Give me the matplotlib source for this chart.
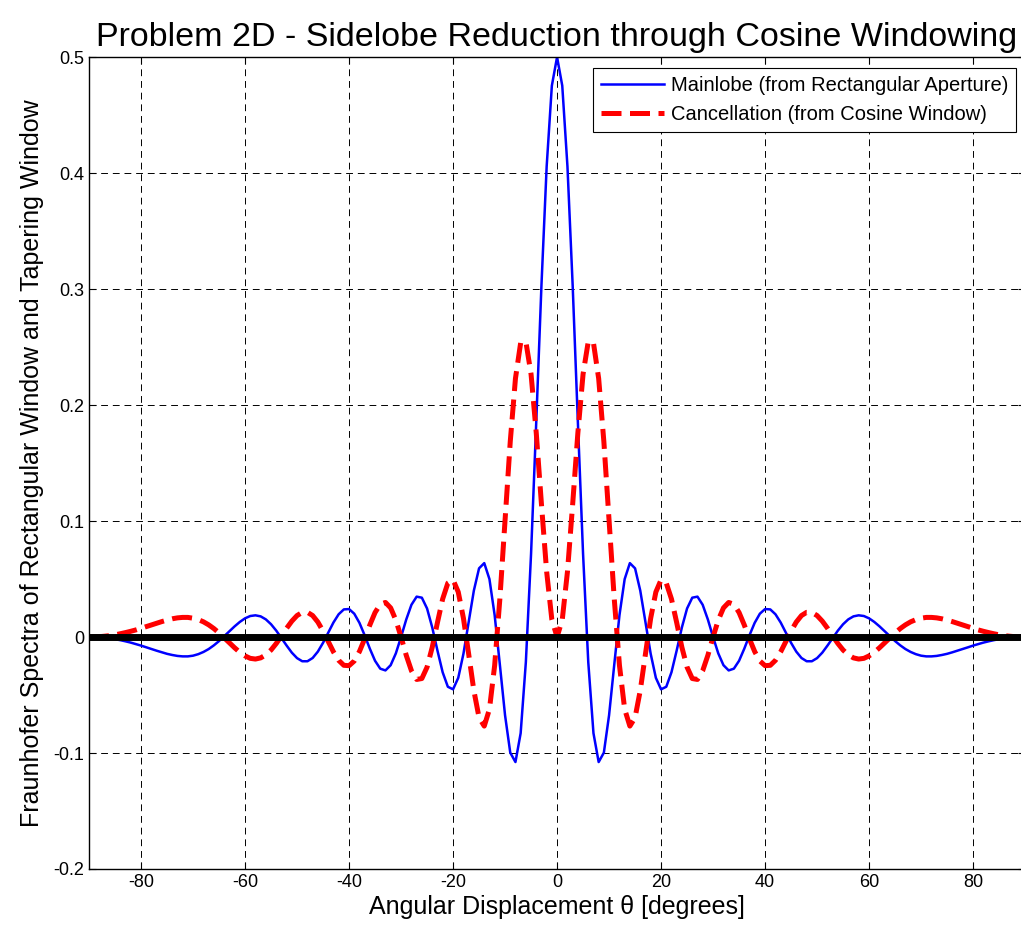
import numpy as np
import matplotlib
matplotlib.use("Agg")
import matplotlib.pyplot as plt
from matplotlib.ticker import FuncFormatter

plt.rcParams['font.family'] = ['Liberation Sans', 'DejaVu Sans']
plt.rcParams['axes.unicode_minus'] = False

# Angular displacement in degrees, one sample per degree
theta = np.arange(-90, 91)

# Fraunhofer pattern of the rectangular aperture
mainlobe = [
    0.0, -0.0001, -0.0003, -0.0007, -0.0012, -0.0019, -0.0027, -0.0037, -0.0048, -0.0061,
    -0.0074, -0.0089, -0.0103, -0.0118, -0.0132, -0.0145, -0.0155, -0.0163, -0.0167, -0.0167,
    -0.0161, -0.0148, -0.0129, -0.0104, -0.0072, -0.0035, 0.0007, 0.0050, 0.0092, 0.0130,
    0.0161, 0.0181, 0.0187, 0.0178, 0.0152, 0.0110, 0.0055, -0.0009, -0.0074, -0.0135,
    -0.0182, -0.0209, -0.0209, -0.0181, -0.0126, -0.0050, 0.0038, 0.0125, 0.0196, 0.0238,
    0.0241, 0.0201, 0.0122, 0.0015, -0.0101, -0.0205, -0.0273, -0.0288, -0.0243, -0.0141,
    0.0, 0.0151, 0.0278, 0.0348, 0.0339, 0.0246, 0.0082, -0.0117, -0.0304, -0.0429,
    -0.0451, -0.0352, -0.0144, 0.0129, 0.0400, 0.0592, 0.0637, 0.0499, 0.0188, -0.0238,
    -0.0675, -0.0997, -0.1078, -0.0829, -0.0216, 0.0717, 0.1856, 0.3033, 0.4056, 0.4753,
    0.5,
    0.4753, 0.4056, 0.3033, 0.1856, 0.0717, -0.0216, -0.0829, -0.1078, -0.0997, -0.0675,
    -0.0238, 0.0188, 0.0499, 0.0637, 0.0592, 0.0400, 0.0129, -0.0144, -0.0352, -0.0451,
    -0.0429, -0.0304, -0.0117, 0.0082, 0.0246, 0.0339, 0.0348, 0.0278, 0.0151, 0.0,
    -0.0141, -0.0243, -0.0288, -0.0273, -0.0205, -0.0101, 0.0015, 0.0122, 0.0201, 0.0241,
    0.0238, 0.0196, 0.0125, 0.0038, -0.0050, -0.0126, -0.0181, -0.0209, -0.0209, -0.0182,
    -0.0135, -0.0074, -0.0009, 0.0055, 0.0110, 0.0152, 0.0178, 0.0187, 0.0181, 0.0161,
    0.0130, 0.0092, 0.0050, 0.0007, -0.0035, -0.0072, -0.0104, -0.0129, -0.0148, -0.0161,
    -0.0167, -0.0167, -0.0163, -0.0155, -0.0145, -0.0132, -0.0118, -0.0103, -0.0089, -0.0074,
    -0.0061, -0.0048, -0.0037, -0.0027, -0.0019, -0.0012, -0.0007, -0.0003, -0.0001, 0.0,
]

# Cancellation term contributed by the cosine taper
cancellation = [
    0.0, 0.0001, 0.0003, 0.0007, 0.0012, 0.0019, 0.0028, 0.0038, 0.0049, 0.0061,
    0.0075, 0.0089, 0.0104, 0.0119, 0.0133, 0.0146, 0.0157, 0.0165, 0.0169, 0.0169,
    0.0162, 0.0150, 0.0131, 0.0105, 0.0073, 0.0035, -0.0007, -0.0050, -0.0093, -0.0132,
    -0.0163, -0.0184, -0.0190, -0.0180, -0.0154, -0.0112, -0.0056, 0.0009, 0.0076, 0.0137,
    0.0185, 0.0212, 0.0213, 0.0185, 0.0129, 0.0051, -0.0039, -0.0128, -0.0201, -0.0244,
    -0.0247, -0.0207, -0.0125, -0.0016, 0.0104, 0.0211, 0.0282, 0.0298, 0.0251, 0.0146,
    0.0, -0.0158, -0.0291, -0.0366, -0.0358, -0.0260, -0.0088, 0.0125, 0.0328, 0.0465,
    0.0493, 0.0388, 0.0161, -0.0146, -0.0461, -0.0695, -0.0768, -0.0622, -0.0245, 0.0328,
    0.1010, 0.1685, 0.2229, 0.2536, 0.2547, 0.2266, 0.1759, 0.1144, 0.0563, 0.0149,
    0.0,
    0.0149, 0.0563, 0.1144, 0.1759, 0.2266, 0.2547, 0.2536, 0.2229, 0.1685, 0.1010,
    0.0328, -0.0245, -0.0622, -0.0768, -0.0695, -0.0461, -0.0146, 0.0161, 0.0388, 0.0493,
    0.0465, 0.0328, 0.0125, -0.0088, -0.0260, -0.0358, -0.0366, -0.0291, -0.0158, 0.0,
    0.0146, 0.0251, 0.0298, 0.0282, 0.0211, 0.0104, -0.0016, -0.0125, -0.0207, -0.0247,
    -0.0244, -0.0201, -0.0128, -0.0039, 0.0051, 0.0129, 0.0185, 0.0213, 0.0212, 0.0185,
    0.0137, 0.0076, 0.0009, -0.0056, -0.0112, -0.0154, -0.0180, -0.0190, -0.0184, -0.0163,
    -0.0132, -0.0093, -0.0050, -0.0007, 0.0035, 0.0073, 0.0105, 0.0131, 0.0150, 0.0162,
    0.0169, 0.0169, 0.0165, 0.0157, 0.0146, 0.0133, 0.0119, 0.0104, 0.0089, 0.0075,
    0.0061, 0.0049, 0.0038, 0.0028, 0.0019, 0.0012, 0.0007, 0.0003, 0.0001, 0.0,
]

xticks = [-80, -60, -40, -20, 0, 20, 40, 60, 80]
yticks = [-0.2, -0.1, 0, 0.1, 0.2, 0.3, 0.4, 0.5]

fig = plt.figure(figsize=(10.21, 9.32), dpi=100)
ax = fig.add_axes([0.0872, 0.0676, 0.9168, 0.8712])

ax.plot(theta, mainlobe, color='#0000ff', lw=1.8,
        label='Mainlobe (from Rectangular Aperture)')
ax.plot(theta, cancellation, color='#ff0000', lw=3.6, linestyle=(0, (4, 1.7)),
        label='Cancellation (from Cosine Window)')
ax.axhline(0, color='black', lw=5, zorder=5)

ax.set_xlim(-90, 90)
ax.set_ylim(-0.2, 0.5)
ax.set_xticks(xticks)
ax.set_yticks(yticks)
ax.yaxis.set_major_formatter(FuncFormatter(lambda v, p: f"{v:g}"))
ax.tick_params(direction='in', top=True, right=True, length=5, labelsize=13)
ax.grid(True, color='black', lw=0.7, linestyle=(0, (7, 5)))
for sp in ax.spines.values():
    sp.set_linewidth(1.0)

ax.set_title('Problem 2D - Sidelobe Reduction through Cosine Windowing',
             fontsize=24.5, pad=8)
ax.set_xlabel('Angular Displacement θ [degrees]', fontsize=18, labelpad=3)
ax.set_ylabel('Fraunhofer Spectra of Rectangular Window and Tapering Window',
              fontsize=18, labelpad=7)

leg = ax.legend(loc='upper right', bbox_to_anchor=(1016 / 1021, 1 - 68 / 932),
                bbox_transform=fig.transFigure, borderaxespad=0, fontsize=14.5,
                fancybox=False, framealpha=1, edgecolor='black',
                handlelength=3.1, handletextpad=0.35, labelspacing=0.5,
                borderpad=0.4)
leg.get_frame().set_linewidth(0.8)

fig.savefig('out.png', dpi=100)
